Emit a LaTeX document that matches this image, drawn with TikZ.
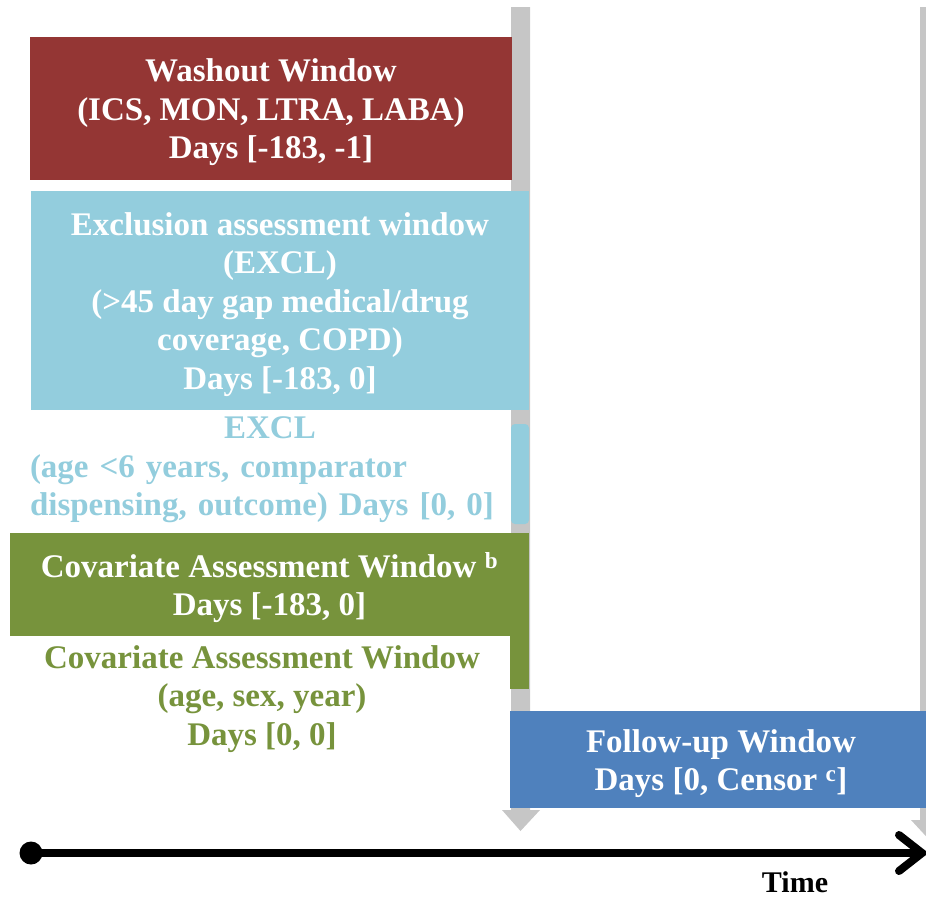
\documentclass[tikz,border=0pt]{standalone}
\usepackage{fontspec}
\usetikzlibrary{calc}
\setmainfont{Liberation Serif}
\definecolor{wred}{HTML}{943634}
\definecolor{wlblue}{HTML}{93CDDD}
\definecolor{wgreen}{HTML}{77933C}
\definecolor{wblue}{HTML}{4F81BD}
\definecolor{wgray}{HTML}{C6C6C6}
\tikzset{
  box/.style={draw=none, inner sep=0pt, outer sep=0pt},
  boxtext/.style={inner sep=0pt, outer sep=0pt, align=center, text=white,
    font=\fontsize{33}{38.5}\selectfont\bfseries},
  plain/.style={inner sep=0pt, outer sep=0pt, font=\fontsize{33}{38.5}\selectfont\bfseries},
  grayarrow/.style={fill=wgray, draw=none},
}
\begin{document}
\begin{tikzpicture}[x=1pt,y=-1pt]
\useasboundingbox (0,0) rectangle (926,898);
% gray time arrows
\coordinate (g1a) at (511,7);
\coordinate (g2a) at (920,7);
\fill[grayarrow] (g1a) -- ++(19,0) -- (530,810) -- (540,810) -- (520.5,831) -- (502,810) -- (511,810) -- cycle;
\fill[grayarrow] (g2a) -- ++(19,0) -- (939,820) -- (948,820) -- (929.5,840) -- (911,820) -- (920,820) -- cycle;
% washout
\node[box, fill=wred, minimum width=482, minimum height=143] (wash) at (271,108.5) {};
\node[boxtext] (washt) at ($(wash.center)+(0,4)$)
  {Washout Window\\(ICS, MON, LTRA, LABA)\\Days [-183, -1]};
% exclusion
\node[box, fill=wlblue, minimum width=498, minimum height=219] (excl) at (280,300.5) {};
\node[boxtext] (exclt) at ($(excl.center)+(0,4)$)
  {Exclusion assessment window\\(EXCL)\\(>45 day gap medical/drug\\coverage, COPD)\\Days [-183, 0]};
% small excl bar
\node[fill=wlblue, rounded corners=4pt, minimum width=18, minimum height=100, inner sep=0pt] (exbar) at (520,474) {};
\node[plain, text=wlblue, text width=480, anchor=north west] (excltxt) at (30,417)
  {{\centering EXCL\par}\raggedright (age <6 years, comparator\\dispensing, outcome) Days [0, 0]};
% covariate
\fill[wgreen] (510,630) rectangle (529,689);
\node[box, fill=wgreen, minimum width=519, minimum height=103] (cov) at (269.5,584.5) {};
\node[boxtext] (covt) at ($(cov.center)+(0,3)$)
  {Covariate Assessment Window \textsuperscript{b}\\Days [-183, 0]};
\node[plain, text=wgreen, align=center] (covtxt) at (262,699)
  {Covariate Assessment Window\\(age, sex, year)\\Days [0, 0]};
% follow-up
\node[box, fill=wblue, minimum width=416, minimum height=97] (fu) at (718,759.5) {};
\node[boxtext] (fut) at ($(fu.center)+(3,4)$)
  {Follow-up Window\\Days [0, Censor \textsuperscript{c}]};
% timeline
\coordinate (tstart) at (31,853);
\coordinate (tend) at (922,853);
\draw[line width=8pt] (tstart) -- (tend);
\draw[line width=8pt, line cap=round, line join=miter] ($(tend)+(-23,-18)$) -- (tend) -- ($(tend)+(-23,18)$);
\fill (tstart) circle (11.5);
\node[plain, font=\fontsize{30}{34}\selectfont\bfseries] (time) at (795,882) {Time};
\end{tikzpicture}
\end{document}
